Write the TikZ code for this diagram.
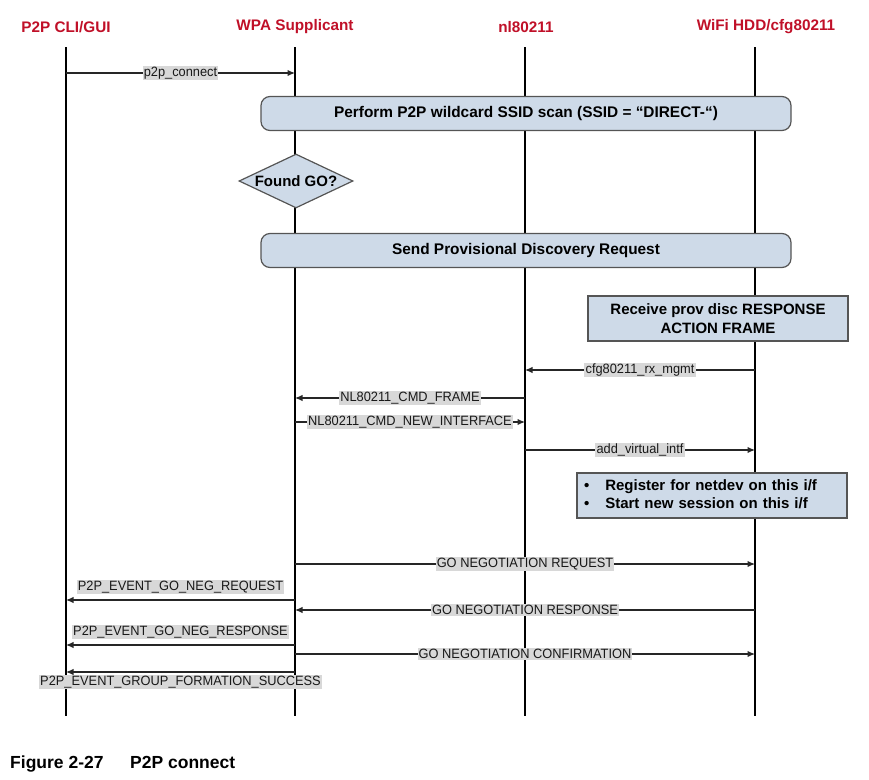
\documentclass[tikz,border=0pt]{standalone}
\usepackage{fontspec}
\setmainfont{Liberation Sans}
\newfontfamily\lblfont[FakeStretch=0.95]{Liberation Sans}
\usetikzlibrary{arrows.meta,shapes.geometric}
\definecolor{hdrred}{RGB}{192,16,40}
\definecolor{boxfill}{RGB}{206,218,232}
\definecolor{boxdraw}{RGB}{85,85,85}
\definecolor{lblbg}{RGB}{216,216,216}
\begin{document}
\begin{tikzpicture}[x=1pt,y=-1pt,
  hdr/.style={text=hdrred,font=\fontsize{15.3}{18}\selectfont\bfseries,inner sep=0pt},
  life/.style={line width=2.2pt,black},
  msg/.style={line width=1.2pt,draw=black!85,-{Latex[length=7.5pt,width=6.5pt]}},
  lbl/.style={fill=lblbg,inner sep=1.2pt,font=\lblfont\fontsize{13.5}{15}\selectfont,text=black!90},
  rbox/.style={draw=boxdraw,fill=boxfill,line width=1.2pt,rounded corners=9pt,
    minimum width=530pt,minimum height=34pt,inner sep=0pt,
    font=\fontsize{15.4}{18}\selectfont\bfseries},
  sbox/.style={draw=boxdraw,fill=boxfill,line width=1.3pt,inner sep=0pt,
    font=\fontsize{15}{19}\selectfont\bfseries},
  decide/.style={diamond,draw=boxdraw,fill=boxfill,line width=1.2pt,inner sep=0pt,
    minimum width=114pt,minimum height=54pt,font=\fontsize{15}{18}\selectfont\bfseries}
]
\useasboundingbox (0,0) rectangle (869,779);

% headers
\node[hdr] (hA) at (66,27) {P2P CLI/GUI};
\node[hdr] (hB) at (295,27) {WPA Supplicant};
\node[hdr] (hC) at (526,27) {nl80211};
\node[hdr] (hD) at (766,27) {WiFi HDD/cfg80211};

% lifeline end points
\coordinate (At) at (66,47);  \coordinate (Ab) at (66,716);
\coordinate (Bt) at (295,47); \coordinate (Bb) at (295,716);
\coordinate (Ct) at (525,47); \coordinate (Cb) at (525,716);
\coordinate (Dt) at (755,47); \coordinate (Db) at (755,716);
\draw[life] (At) -- (Ab);
\draw[life] (Bt) -- (Bb);
\draw[life] (Ct) -- (Cb);
\draw[life] (Dt) -- (Db);

% message levels on every lifeline
\foreach \n/\y in {1/73,2/370,3/398,4/422,5/450,6/564,7/600,8/610,9/645,10/654,11/672}{
  \coordinate (A\n) at (66,\y);
  \coordinate (B\n) at (295,\y);
  \coordinate (C\n) at (525,\y);
  \coordinate (D\n) at (755,\y);
}

% boxes
\node[rbox] (scan) at (526,113.5) {Perform P2P wildcard SSID scan (SSID = “DIRECT-“)};
\node[decide] (found) at (296,181) {\makebox[0pt]{Found GO?}};
\node[rbox] (pdreq) at (526,250.5) {Send Provisional Discovery Request};
\node[sbox,minimum width=260pt,minimum height=45pt,align=center] (rcv) at (718,318.5)
  {Receive prov disc RESPONSE\\ACTION FRAME};
\node[sbox,minimum width=270pt,minimum height=45pt,text width=256pt,align=left,inner xsep=7pt] (reg) at (712,495.5)
  {\begin{tabular}{@{}l@{\hspace{16pt}}l@{}}•&Register for netdev on this i/f\\[-1pt]•&Start new session on this i/f\end{tabular}};

% messages
\draw[msg] (A1) -- node[lbl] {p2p\_connect} (B1);
\draw[msg] (D2) -- node[lbl] {cfg80211\_rx\_mgmt} (C2);
\draw[msg] (C3) -- node[lbl] {NL80211\_CMD\_FRAME} (B3);
\draw[msg] (B4) -- node[lbl] {NL80211\_CMD\_NEW\_INTERFACE} (C4);
\draw[msg] (C5) -- node[lbl] {add\_virtual\_intf} (D5);
\draw[msg] (B6) -- node[lbl] {GO NEGOTIATION REQUEST} (D6);
\draw[msg] (B7) -- node[lbl,above=5pt] {P2P\_EVENT\_GO\_NEG\_REQUEST} (A7);
\draw[msg] (D8) -- node[lbl] {GO NEGOTIATION RESPONSE} (B8);
\draw[msg] (B9) -- node[lbl,above=5pt] {P2P\_EVENT\_GO\_NEG\_RESPONSE} (A9);
\draw[msg] (B10) -- node[lbl] {GO NEGOTIATION CONFIRMATION} (D10);
\draw[msg] (B11) -- node[lbl,below=2pt] {P2P\_EVENT\_GROUP\_FORMATION\_SUCCESS} (A11);

% caption
\node[anchor=base west,inner sep=0pt,font=\fontsize{17.5}{20}\selectfont\bfseries] (cap) at (10,768)
  {\makebox[120pt][l]{Figure 2-27}P2P connect};
\end{tikzpicture}
\end{document}
